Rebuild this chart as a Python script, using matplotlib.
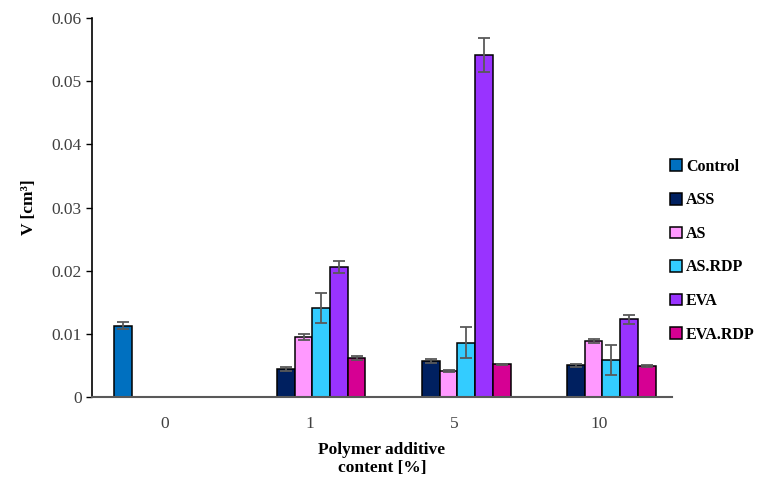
import numpy as np
import matplotlib.pyplot as plt
from matplotlib.patches import Patch

plt.rcParams['font.family'] = ['Liberation Serif', 'DejaVu Serif']

categories = ["0", "1", "5", "10"]
series = ["Control", "ASS", "AS", "AS.RDP", "EVA", "EVA.RDP"]
colors = ["#0070C0", "#002060", "#FF99FF", "#33CCFF", "#9933FF", "#D60093"]

control = [0.0113, np.nan, np.nan, np.nan]
control_err = [0.0005, 0, 0, 0]
ass = [np.nan, 0.0044, 0.0057, 0.0050]
ass_err = [0, 0.0003, 0.0003, 0.0003]
as_ = [np.nan, 0.0095, 0.0041, 0.0089]
as_err = [0, 0.0005, 0.0002, 0.0003]
as_rdp = [np.nan, 0.0141, 0.0086, 0.0059]
as_rdp_err = [0, 0.0024, 0.0025, 0.0024]
eva = [np.nan, 0.0206, 0.0542, 0.0123]
eva_err = [0, 0.0010, 0.0027, 0.0007]
eva_rdp = [np.nan, 0.0062, 0.0052, 0.0049]
eva_rdp_err = [0, 0.0003, 0.0001, 0.0002]

values = [control, ass, as_, as_rdp, eva, eva_rdp]
errors = [control_err, ass_err, as_err, as_rdp_err, eva_err, eva_rdp_err]

fig = plt.figure(figsize=(7.62, 4.79), dpi=100)
ax = fig.add_axes([0.1207, 0.1712, 0.7613, 0.7912])

x = np.arange(len(categories))
w = 1 / 8.2
for i, (name, v, e, c) in enumerate(zip(series, values, errors, colors)):
    pos = x + (i - 2.5) * w + 0.02
    ax.bar(pos, v, w, color=c, edgecolor="black", linewidth=1.1, label=name, zorder=2)
    ax.errorbar(pos, v, yerr=e, fmt="none", ecolor="#595959", elinewidth=1.3,
                capsize=4, capthick=1.3, zorder=3)

ax.set_xlim(-0.5, 3.5)
ax.set_ylim(0, 0.06)
ax.set_yticks([0, 0.01, 0.02, 0.03, 0.04, 0.05, 0.06])
ax.set_yticklabels(["0", "0.01", "0.02", "0.03", "0.04", "0.05", "0.06"])
ax.set_xticks(x)
ax.set_xticklabels(categories)
ax.tick_params(axis="x", length=0, pad=14, labelsize=12.5)
ax.tick_params(axis="y", length=4, width=1, direction="out", labelsize=12.5, color="black")
for lab in ax.get_yticklabels() + ax.get_xticklabels():
    lab.set_color("#404040")

ax.spines["top"].set_visible(False)
ax.spines["right"].set_visible(False)
ax.spines["left"].set_color("black")
ax.spines["left"].set_linewidth(1.2)
ax.spines["bottom"].set_color("#595959")
ax.spines["bottom"].set_linewidth(1.5)

ax.set_ylabel("V [cm³]", fontsize=12.5, fontweight="bold", labelpad=10)
ax.set_xlabel("Polymer additive\ncontent [%]", fontsize=12.5, fontweight="bold",
              labelpad=7, linespacing=1.15)

handles = [Patch(facecolor=c, edgecolor="black", linewidth=1.1) for c in colors]
leg = ax.legend(handles, series, loc="center left", bbox_to_anchor=(0.972, 0.386),
                frameon=False, handlelength=0.75, handleheight=0.75, handletextpad=0.25,
                labelspacing=1.1, prop={"weight": "bold", "size": 11.5})

fig.savefig("out.png", dpi=100)
